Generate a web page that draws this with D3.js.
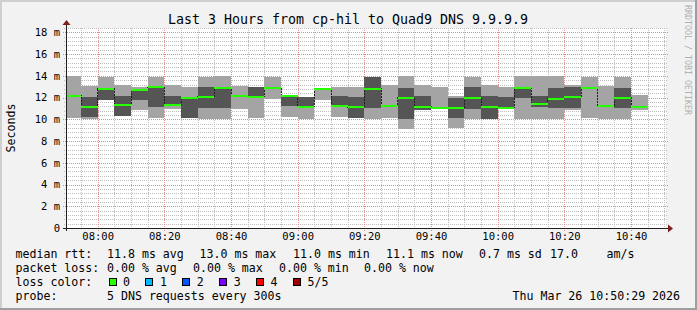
<!DOCTYPE html>
<html>
<head>
<meta charset="utf-8">
<script src="https://cdn.jsdelivr.net/npm/d3@7"></script>
<style>
  body { margin: 0; background: #fff; }
  svg { display: block; }
  text { font-family: "DejaVu Sans Mono", monospace; fill: #000; }
</style>
</head>
<body>
<div id="chart"></div>
<script>
// 5 minute steps, start of each interval
const steps = ["07:50","07:55","08:00","08:05","08:10","08:15","08:20","08:25","08:30","08:35",
  "08:40","08:45","08:50","08:55","09:00","09:05","09:10","09:15","09:20","09:25",
  "09:30","09:35","09:40","09:45","09:50","09:55","10:00","10:05","10:10","10:15",
  "10:20","10:25","10:30","10:35","10:40"];
// sorted pings (ms): min, 2nd, median, 4th, max
const pingMin = [10.15,10.03,11.78,10.33,10.86,10.10,10.92,10.15,10.06,10.06,
  10.95,10.15,11.85,10.18,10.05,11.75,10.20,10.09,10.05,10.09,
  9.08,10.90,11.02,9.20,10.07,10.05,11.05,10.07,10.07,10.07,
  10.86,10.15,10.07,10.07,10.86];
const pingLow = [12.15,10.24,11.78,10.33,11.78,11.16,11.34,10.15,11.01,11.07,
  12.10,12.08,12.88,11.22,11.16,12.75,11.22,10.09,11.01,11.25,
  10.03,10.90,11.07,10.09,10.95,10.05,11.07,11.99,11.16,11.04,
  11.04,12.90,11.25,11.04,11.16];
const pingMedian = [12.15,11.16,12.79,11.36,12.74,12.97,11.34,11.99,12.08,12.88,
  12.10,12.08,12.88,12.17,11.16,12.75,11.22,11.10,12.80,11.25,
  12.00,11.16,11.07,11.07,11.99,11.16,11.07,12.88,11.38,11.87,
  12.08,12.90,11.25,11.99,11.16];
const pingHigh = [12.15,12.06,12.79,12.14,12.74,12.97,12.14,11.99,12.97,12.88,
  12.10,12.94,12.88,12.17,12.08,12.88,12.14,12.08,13.88,11.25,
  12.90,12.14,11.07,11.99,12.94,12.14,12.02,12.88,12.14,12.91,
  12.94,12.90,11.25,12.91,11.16];
const pingMax = [14.00,13.06,13.90,13.16,12.94,13.90,13.16,12.94,13.90,14.00,
  13.06,12.94,13.90,12.17,12.08,12.88,12.96,12.94,13.88,13.16,
  14.00,13.16,12.94,12.14,13.90,13.16,12.94,14.00,14.00,14.00,
  13.16,13.88,13.06,13.88,12.24];
const yTicks = [0, 2, 4, 6, 8, 10, 12, 14, 16, 18];
const timeTicks = ["08:00","08:20","08:40","09:00","09:20","09:40","10:00","10:20","10:40"];
const lossLabels = ["0", "1", "2", "3", "4", "5/5"];
const lossColors = ["#26ff00", "#00b8ff", "#0059ff", "#7e00ff", "#ff0000", "#a10000"];

const width = 697, height = 310;
const pL = 66, pR = 666, pT = 28, pB = 228;

const parse = d3.timeParse("%Y-%m-%d %H:%M:%S");
const t = (s) => parse("2026-03-26 " + (s.length === 5 ? s + ":00" : s));

const x = d3.scaleTime().domain([t("07:50:30"), t("10:50:30")]).range([pL, pR]);
const y = d3.scaleLinear().domain([0, 18.4]).range([pB, pT]);

const svg = d3.select("#chart").append("svg")
  .attr("width", width).attr("height", height);

// background + 3d frame
svg.append("rect").attr("width", width).attr("height", height).attr("fill", "#f2f2f2");
svg.append("rect").attr("x", 0).attr("y", 0).attr("width", width).attr("height", 2).attr("fill", "#cfcfcf");
svg.append("rect").attr("x", 0).attr("y", 0).attr("width", 2).attr("height", height).attr("fill", "#cfcfcf");
svg.append("rect").attr("x", 0).attr("y", height - 2).attr("width", width).attr("height", 2).attr("fill", "#9e9e9e");
svg.append("rect").attr("x", width - 2).attr("y", 0).attr("width", 2).attr("height", height).attr("fill", "#9e9e9e");

svg.append("rect").attr("x", pL).attr("y", pT)
  .attr("width", pR - pL).attr("height", pB - pT).attr("fill", "#fff");

// grid: dotted lines built from 1px rects so they stay crisp
const grid = svg.append("g").attr("shape-rendering", "crispEdges");
const dotsH = (yy, xa, xb, col) => {
  const g = grid.append("g").attr("fill", col);
  for (let px = xa; px < xb; px += 2) g.append("rect").attr("x", px).attr("y", yy).attr("width", 1).attr("height", 1);
};
const dotsV = (xx, ya, yb, col) => {
  const g = grid.append("g").attr("fill", col);
  for (let py = ya; py < yb; py += 2) g.append("rect").attr("x", xx).attr("y", py).attr("width", 1).attr("height", 1);
};
const minorY = d3.range(1, 47).map((i) => i * 0.4).filter((v, i) => (i + 1) % 5 !== 0);
minorY.forEach((d) => dotsH(Math.round(y(d)), pL - 2, pR + 2, "#bdbdbd"));
const minorX = x.ticks(d3.timeMinute.every(5)).filter((d) => d.getMinutes() % 20 !== 0);
minorX.forEach((d) => dotsV(Math.round(x(d)), pT, pB + 2, "#bdbdbd"));
yTicks.filter((d) => d > 0).forEach((d) => dotsH(Math.round(y(d)), pL - 3, pR + 2, "#e88888"));
timeTicks.forEach((d) => dotsV(Math.round(x(t(d))), pT, pB + 3, "#e88888"));

// smoke
svg.append("clipPath").attr("id", "plot").append("rect")
  .attr("x", pL).attr("y", pT).attr("width", pR - pL).attr("height", pB - pT);
const plot = svg.append("g").attr("clip-path", "url(#plot)").attr("shape-rendering", "crispEdges");
const x0 = (i) => x(t(steps[i]));
const x1 = (i) => x(d3.timeMinute.offset(t(steps[i]), 5));

plot.selectAll("rect.outer").data(steps).enter().append("rect").attr("class", "outer")
  .attr("x", (d, i) => x0(i)).attr("width", (d, i) => x1(i) - x0(i))
  .attr("y", (d, i) => y(pingMax[i])).attr("height", (d, i) => y(pingMin[i]) - y(pingMax[i]))
  .attr("fill", "#a4a4a4");
plot.selectAll("rect.inner").data(steps).enter().append("rect").attr("class", "inner")
  .attr("x", (d, i) => x0(i)).attr("width", (d, i) => x1(i) - x0(i))
  .attr("y", (d, i) => y(pingHigh[i])).attr("height", (d, i) => Math.max(0, y(pingLow[i]) - y(pingHigh[i])))
  .attr("fill", "#555555");

// median step line
const medPts = steps.map((s, i) => [t(s), pingMedian[i]]);
medPts.push([d3.timeMinute.offset(t(steps[steps.length - 1]), 5), pingMedian[pingMedian.length - 1]]);
plot.append("path")
  .attr("d", d3.line().x((d) => x(d[0])).y((d) => y(d[1])).curve(d3.curveStepAfter)(medPts))
  .attr("fill", "none").attr("stroke", "#202020").attr("stroke-width", 1)
  .attr("stroke-dasharray", "2,1");

plot.selectAll("rect.med").data(steps).enter().append("rect").attr("class", "med")
  .attr("x", (d, i) => x0(i)).attr("width", (d, i) => x1(i) - x0(i))
  .attr("y", (d, i) => Math.round(y(pingMedian[i])) - 1).attr("height", 2)
  .attr("fill", lossColors[0]);

// axes
const axisFont = "10.5px";
const yAxis = svg.append("g").attr("transform", `translate(${pL},0)`)
  .call(d3.axisLeft(y).tickValues(yTicks).tickSize(0).tickPadding(6)
    .tickFormat((d) => (d === 0 ? "0" : d + " m")));
yAxis.select(".domain").remove();
yAxis.selectAll("text").style("font-family", "DejaVu Sans Mono").style("font-size", axisFont);

const xAxis = svg.append("g").attr("transform", `translate(0,${pB})`)
  .call(d3.axisBottom(x).tickValues(timeTicks.map(t)).tickSize(0).tickPadding(5)
    .tickFormat(d3.timeFormat("%H:%M")));
xAxis.select(".domain").remove();
xAxis.selectAll("text").style("font-family", "DejaVu Sans Mono").style("font-size", axisFont);

svg.append("line").attr("x1", pL + 0.5).attr("x2", pL + 0.5).attr("y1", pB + 3).attr("y2", pT - 4)
  .attr("stroke", "#1f1f1f").attr("stroke-width", 1);
svg.append("line").attr("x1", pL - 3).attr("x2", pR + 3).attr("y1", pB + 0.5).attr("y2", pB + 0.5)
  .attr("stroke", "#1f1f1f").attr("stroke-width", 1);
svg.append("path").attr("d", `M${pL - 3.5},${pT - 3} L${pL + 0.5},${pT - 8} L${pL + 4.5},${pT - 3} Z`)
  .attr("fill", "#801f1f");
svg.append("path").attr("d", `M${pR + 2},${pB - 3.5} L${pR + 7},${pB + 0.5} L${pR + 2},${pB + 4.5} Z`)
  .attr("fill", "#801f1f");

// titles
svg.append("text").attr("x", 348).attr("y", 24).attr("text-anchor", "middle")
  .style("font-size", "13.3px").text("Last 3 Hours from cp-hil to Quad9 DNS 9.9.9.9");
svg.append("text").attr("transform", "translate(14.5,128) rotate(-90)").attr("text-anchor", "middle")
  .style("font-size", "11.6px").text("Seconds");
svg.append("text").attr("transform", "translate(685,5) rotate(90)")
  .style("font-size", "8.3px").style("fill", "#b0b0b0").text("RRDTOOL / TOBI OETIKER");

// legend
const legend = svg.append("g").style("font-size", "11.6px");
const put = (s, lx, ly) => legend.append("text").attr("x", lx).attr("y", ly).text(s);
[["median rtt:", 15.5], ["11.8 ms avg", 107], ["13.0 ms max", 199.5], ["11.0 ms min", 293],
 ["11.1 ms now", 386], ["0.7 ms sd", 479], ["17.0", 550], ["am/s", 606.5]]
  .forEach(([s, lx]) => put(s, lx, 257.5));
[["packet loss:", 15.5], ["0.00 % avg", 107], ["0.00 % max", 193], ["0.00 % min", 279], ["0.00 % now", 364]]
  .forEach(([s, lx]) => put(s, lx, 271.5));
put("loss color:", 15.5, 285.5);
lossLabels.forEach((s, i) => {
  const bx = 108.5 + i * 36.9;
  legend.append("rect").attr("x", Math.round(bx) + 0.5).attr("y", 278.5).attr("width", 7).attr("height", 7)
    .attr("fill", lossColors[i]).attr("stroke", "#000").attr("stroke-width", 1);
  put(s, bx + 14.5, 285.5);
});
put("probe:", 15.5, 299.5);
put("5 DNS requests every 300s", 107, 299.5);
put("Thu Mar 26 10:50:29 2026", 512.5, 299.5);
</script>
</body>
</html>
